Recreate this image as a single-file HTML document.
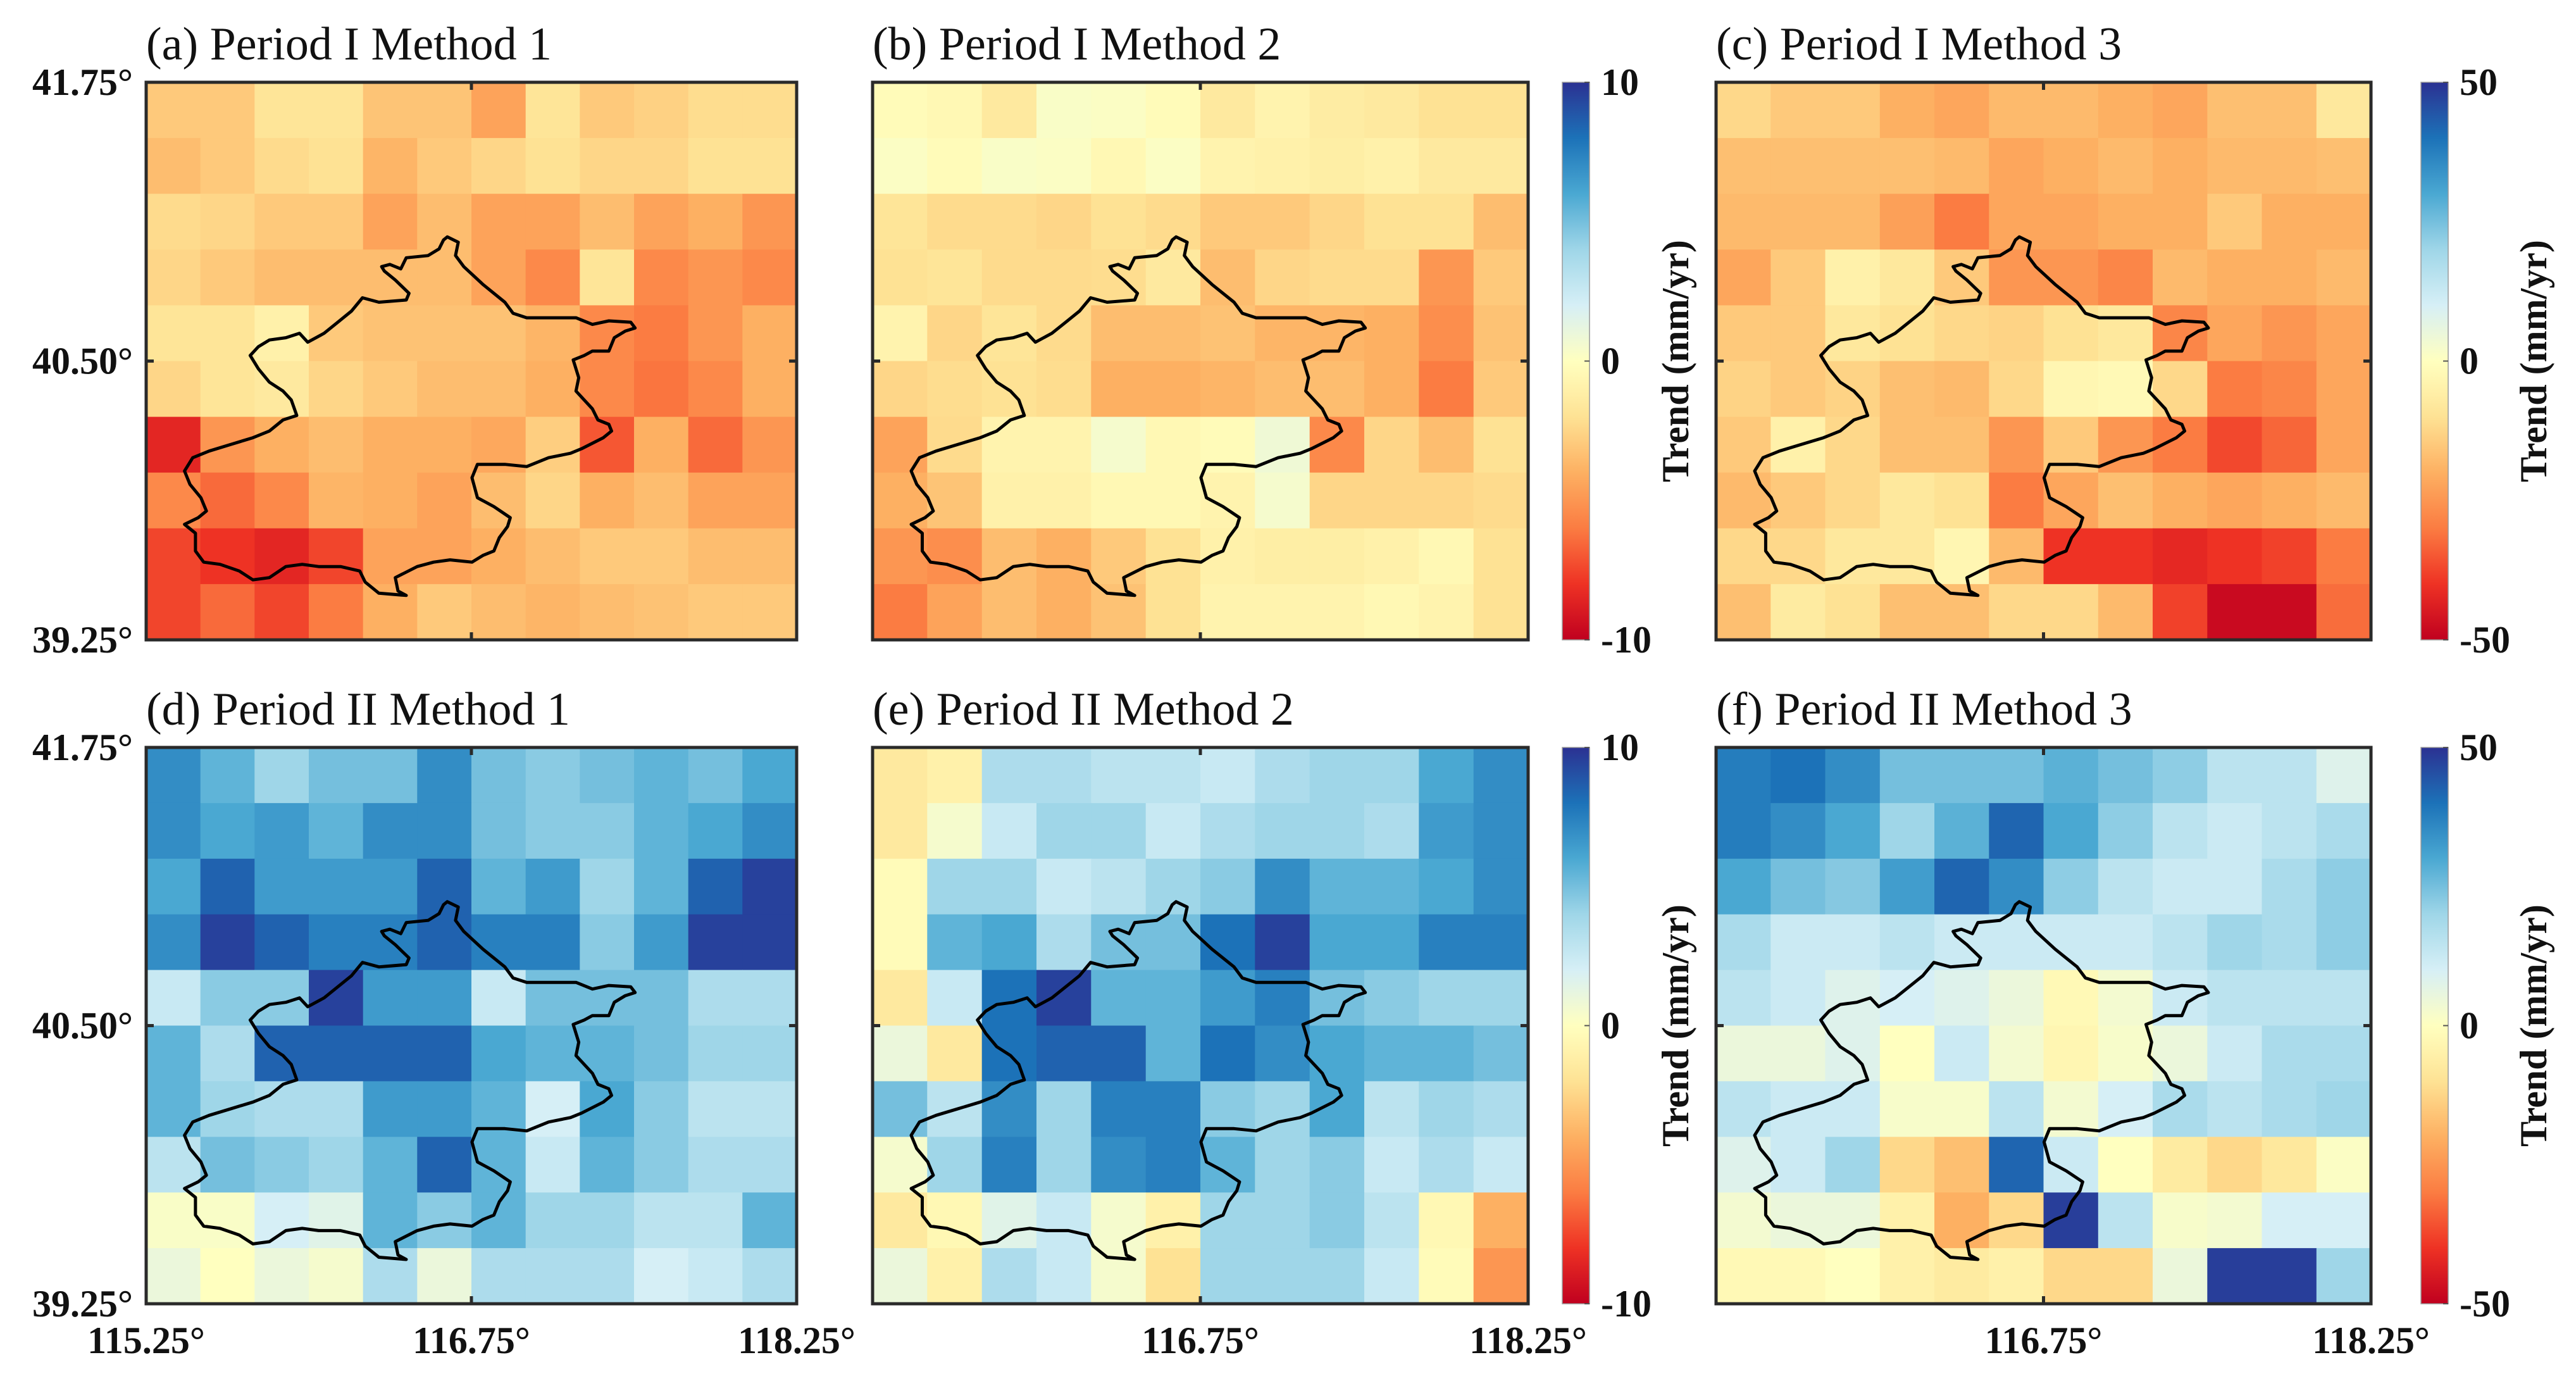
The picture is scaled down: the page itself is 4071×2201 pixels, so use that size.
<!DOCTYPE html>
<html><head><meta charset="utf-8"><style>
html,body{margin:0;padding:0;background:#fff}
svg{display:block}
text{font-family:"Liberation Serif",serif}
</style></head><body>
<svg id="fig" width="4071" height="2201" viewBox="0 0 4071 2201" xmlns="http://www.w3.org/2000/svg"></svg>
<script>
const lonTicks=["115.25°","116.75°","118.25°"];
const latTicks=["41.75°","40.50°","39.25°"];
const titles=["(a) Period I Method 1","(b) Period I Method 2","(c) Period I Method 3","(d) Period II Method 1","(e) Period II Method 2","(f) Period II Method 3"];
const ranges=[10,10,50,10,10,50];
const pa=[
[-3,-3,-1.8,-1.8,-3.2,-3.2,-4.5,-1.8,-3,-2.7,-2.2,-2.2],
[-3.5,-3,-2.3,-2,-3.8,-3,-2.5,-2,-2.5,-2.5,-2,-2],
[-2.3,-2.5,-3,-3,-4.5,-3.5,-4.5,-4.5,-3.5,-4.5,-4,-5],
[-2.5,-3,-3.5,-3.5,-3.5,-3.5,-4.5,-5.5,-1.8,-5.5,-5,-5.5],
[-1.8,-1.8,-1,-3,-3.3,-3.3,-3.3,-3.8,-5.5,-6,-5,-4],
[-2.5,-1.8,-1.5,-2.5,-3,-3.5,-3.5,-4,-5.5,-6.2,-5.5,-4],
[-8.5,-5,-4,-3.5,-4,-4,-4.3,-2.8,-7,-4,-6.5,-5],
[-5.5,-6.5,-5.5,-3.8,-4,-4.5,-3.5,-2.5,-4,-3.5,-4.5,-4.5],
[-7.5,-8,-8.5,-7.5,-4.5,-4.5,-4,-3.5,-3,-3,-3.5,-3.5],
[-7.5,-6.5,-7.5,-6,-4,-3,-3.5,-3.8,-3.5,-3.3,-3,-3]];
const pb=[
[-0.3,-0.5,-1.5,0.3,0.2,-0.3,-1.5,-0.8,-1.3,-1.5,-2,-2],
[0.2,-0.3,0.3,0.2,-0.5,0.2,-0.8,-1,-1.2,-1,-1.5,-1.5],
[-1.8,-2.3,-2.3,-2.5,-2,-2.3,-3,-3,-2.5,-2,-2,-3.5],
[-2,-1.8,-2.3,-2.3,-2.2,-1.5,-3.5,-2.5,-2.3,-2.3,-5,-3],
[-0.8,-2.5,-1.8,-2.3,-3.5,-3.5,-3.3,-3.8,-3.8,-4,-5.3,-3.3],
[-2.5,-2.2,-2,-2.2,-4,-4,-3.8,-3.5,-3.5,-4,-6,-3],
[-4.5,-2.3,-0.8,-0.8,0.5,-0.5,-0.3,0.8,-5.5,-2.5,-3.5,-2],
[-4,-3.2,-1,-1,-0.5,-0.5,-0.8,0.5,-2.5,-2.5,-2.5,-2.3],
[-5,-5.3,-3.5,-4,-3,-2,-1,-1.2,-1.2,-1,-0.5,-2],
[-6,-4.5,-3.5,-4,-3.3,-2,-0.8,-0.8,-0.8,-0.5,-0.8,-2]];
const pc=[
[-12,-15,-15,-20,-22,-18,-18,-20,-22,-17,-17,-8],
[-17,-17,-17,-17,-18,-22,-20,-18,-20,-18,-18,-17],
[-18,-18,-18,-23,-30,-22,-22,-20,-20,-15,-20,-20],
[-22,-15,-5,-8,-15,-25,-25,-28,-18,-20,-20,-18],
[-15,-15,-8,-10,-12,-13,-10,-8,-28,-22,-25,-22],
[-13,-15,-13,-17,-18,-12,-3,-2,-12,-30,-28,-22],
[-15,-5,-12,-17,-17,-25,-15,-25,-30,-37,-33,-22],
[-18,-15,-12,-8,-10,-30,-22,-17,-20,-22,-20,-18],
[-12,-12,-8,-8,-3,-18,-40,-40,-42,-40,-38,-30],
[-17,-7,-10,-17,-17,-12,-12,-18,-38,-48,-48,-32]];
const pd=[
[7,5.5,4,5,5,7,5,4.5,5,5.5,5,6],
[7,6,6.5,5.5,7,7,5,4.5,4.5,5.5,6,7],
[6,8.5,6.5,6.5,6.5,8.5,5.5,6.5,4,5.5,8.5,9.5],
[7,9.5,8.5,7.5,7.5,8.5,7.5,7.5,4.5,6.5,9.5,9.5],
[2.5,4.5,4.5,9.5,6.5,6.5,2.5,5,5,5,3.5,3.5],
[5.5,3.5,8.5,8.5,8.5,8.5,6,5.5,5.5,5,4,4],
[5.5,4,3.5,3.5,6.5,6.5,5.5,2,6,4.5,3,3],
[3,5,4.5,4,5.5,8.5,5.5,2.5,5.5,4.5,3.5,3.5],
[0.3,0.3,2,1.5,5.5,4.5,5.5,4,4,3,3,5.5],
[1,0,1,0.5,3.5,1,3.5,3.5,3.5,2,2.5,3.5]];
const pe=[
[-1.5,-1,3.5,3.5,3,3,2.5,3.5,4,4,6,7],
[-1.5,0.5,2.5,4,4,2.5,3.5,4,4,3.5,6.5,7],
[-0.3,4,4,2.5,3,4,4.5,7,5.5,5.5,6,7],
[-0.3,5.5,6,3.5,5,5,8,9.5,6,6,7.5,7.5],
[-1.5,2.5,8,9.5,5.5,5.5,6.5,7.5,5,4.5,4,4],
[1,-1.5,8,8.5,8.5,5.5,8,7,6,5.5,5.5,5],
[5,3,7,4,7.5,7.5,4.5,4,6,3,4,3.5],
[0.5,4,7.5,4,7,7.5,5.5,4,4.5,2.5,3.5,2.5],
[-1.5,-0.5,1.5,2.5,0.5,-1,4,4,4.5,3,-0.5,-4],
[1,-1,3.5,2.5,0.5,-2,4,4,4,2.5,-0.3,-5]];
const pf=[
[38,40,35,25,25,25,28,25,22,15,15,8],
[38,35,30,20,28,42,30,22,15,12,15,18],
[30,25,23,32,42,35,22,15,12,12,18,22],
[18,12,12,15,12,12,12,12,15,20,18,22],
[15,12,8,10,8,5,-2,3,12,15,15,15],
[5,5,8,0,12,3,-3,2,5,12,18,18],
[15,12,12,2,2,15,3,10,18,15,18,20],
[8,12,20,-12,-17,42,12,0,-7,-12,-8,1],
[3,5,5,-5,-20,-12,48,15,2,3,10,10],
[-2,-2,0,-5,-7,-5,-12,-12,5,48,48,20]];
const panelsData=[pa,pb,pc,pd,pe,pf];
const cbTicks=[["10","0","-10"],["50","0","-50"]];

const NS="http://www.w3.org/2000/svg";
const svg=document.getElementById('fig');
const stops=["#c0001f","#ee3224","#fb7c42","#fdb062","#fee294","#ffffbf","#d6eff6","#9fd6e8","#4aa8d2","#1c72b8","#2b3192"];
function hex(h){return [1,3,5].map(i=>parseInt(h.substr(i,2),16));}
function cmap(t){t=Math.max(0,Math.min(1,t));const p=t*10,i=Math.min(9,Math.floor(p)),f=p-i;const a=hex(stops[i]),b=hex(stops[i+1]);return `rgb(${a.map((v,k)=>Math.round(v+(b[k]-v)*f)).join(',')})`;}
function el(tag,attrs,parent){const e=document.createElementNS(NS,tag);for(const k in attrs)e.setAttribute(k,attrs[k]);(parent||svg).appendChild(e);return e;}

const colX=[231,1379,2712],colW=[1028,1036,1035],rowY=[130,1181],rowH=[881,879];
const cbX=[null,2469,3826];
const outlineZ=[[815,533],[835,545],[830,575],[845,600],[880,640],[920,680],[935,705],[960,715],[1050,715],[1080,730],[1110,722],[1150,725],[1158,738],[1140,745],[1120,760],[1110,790],[1080,790],[1065,800],[1045,810],[1055,850],[1050,880],[1080,920],[1090,945],[1110,955],[1115,970],[1100,985],[1060,1010],[1040,1020],[1000,1030],[960,1050],[920,1045],[870,1045],[860,1075],[870,1120],[900,1140],[930,1165],[925,1185],[910,1210],[900,1240],[880,1250],[860,1265],[820,1260],[790,1265],[760,1275],[720,1300],[725,1330],[740,1340],[690,1335],[665,1310],[655,1285],[620,1275],[580,1275],[550,1270],[520,1275],[490,1300],[460,1305],[435,1285],[400,1270],[370,1265],[355,1240],[355,1200],[335,1180],[360,1165],[375,1150],[365,1120],[345,1090],[335,1060],[350,1030],[380,1015],[420,1000],[460,985],[490,970],[515,945],[540,935],[530,900],[515,880],[490,860],[470,830],[455,800],[470,780],[490,765],[520,760],[545,750],[560,770],[590,750],[620,720],[640,700],[660,670],[690,680],[740,675],[745,660],[720,630],[700,610],[695,600],[710,595],[730,605],[740,580],[780,575],[800,560],[808,540]];
const outlineF=outlineZ.map(p=>[(p[0]-265)/1188,(p[1]-185)/1255]);

for(let p=0;p<6;p++){
  const c=p%3,r=Math.floor(p/3);
  const x0=colX[c],y0=rowY[r],W=colW[c],H=rowH[r],data=panelsData[p],R=ranges[p];
  const g=el('g',{});
  
  
  const nr=data.length,nc=data[0].length;
  const xs=j=>x0+W*j/nc, ys=i=>y0+H*i/nr;
  for(let i=0;i<nr;i++)for(let j=0;j<nc;j++){
    const v=data[i][j];
    const rc=el('rect',{x:xs(j).toFixed(1),y:ys(i).toFixed(1),width:(xs(j+1)-xs(j)+0.6).toFixed(1),height:(ys(i+1)-ys(i)+0.6).toFixed(1),fill:cmap((v+R)/(2*R))},g);
    
    
  }
  const pts=outlineF.map(q=>(x0+q[0]*W).toFixed(1)+','+(y0+q[1]*H).toFixed(1)).join(' ');
  const ol=el('polygon',{points:pts,fill:'none',stroke:'#000','stroke-width':5,'stroke-linejoin':'round'},g);
  
  
  const fr=el('rect',{x:x0,y:y0,width:W,height:H,fill:'none',stroke:'#2a2a2a','stroke-width':5},g);
  
  
  const tk=[[x0+W/2,y0,x0+W/2,y0+12],[x0+W/2,y0+H,x0+W/2,y0+H-12],[x0,y0+H/2,x0+12,y0+H/2],[x0+W,y0+H/2,x0+W-12,y0+H/2]];
  tk.forEach(t=>{const l=el('line',{x1:t[0],y1:t[1],x2:t[2],y2:t[3],stroke:'#2a2a2a','stroke-width':5},g);});
  const tt=el('text',{x:x0,y:y0-36,'font-size':74,fill:'#111'},g);
  tt.textContent=titles[p];
  
  
  if(c===0){
    latTicks.forEach((s,k)=>{const t=el('text',{x:210,y:y0+H*k/2+20,'font-size':60,'font-weight':'bold','text-anchor':'end',fill:'#111'});t.textContent=s;});
  }
  if(r===1){
    lonTicks.forEach((s,k)=>{if(c>0&&k===0)return;const t=el('text',{x:x0+W*k/2,y:2138,'font-size':60,'font-weight':'bold','text-anchor':'middle',fill:'#111'});t.textContent=s;});
  }
  if(c>0){
    const cx=cbX[c],cw=43;
    const gid='grad'+p;
    const lg=el('linearGradient',{id:gid,x1:0,y1:1,x2:0,y2:0});
    for(let k=0;k<=20;k++)el('stop',{offset:(k/20),'stop-color':cmap(k/20)},lg);
    const cb=el('rect',{x:cx,y:y0,width:cw,height:H,fill:`url(#${gid})`,stroke:'#999','stroke-width':1.5});
    
    
    const labs=cbTicks[R===50?1:0];
    labs.forEach((s,k)=>{const t=el('text',{x:cx+cw+18,y:y0+H*k/2+20,'font-size':60,'font-weight':'bold',fill:'#111'});t.textContent=s;
      const l=el('line',{x1:cx+cw-8,y1:y0+H*k/2,x2:cx+cw,y2:y0+H*k/2,stroke:'#555','stroke-width':2});});
    const tx=c===1?2668:4024,ty=y0+H/2;
    const ct=el('text',{x:tx,y:ty,'font-size':60,'font-weight':'bold','text-anchor':'middle',fill:'#111',transform:`rotate(-90 ${tx} ${ty})`});
    ct.textContent='Trend (mm/yr)';
    
    
  }
}
</script>
</body></html>
